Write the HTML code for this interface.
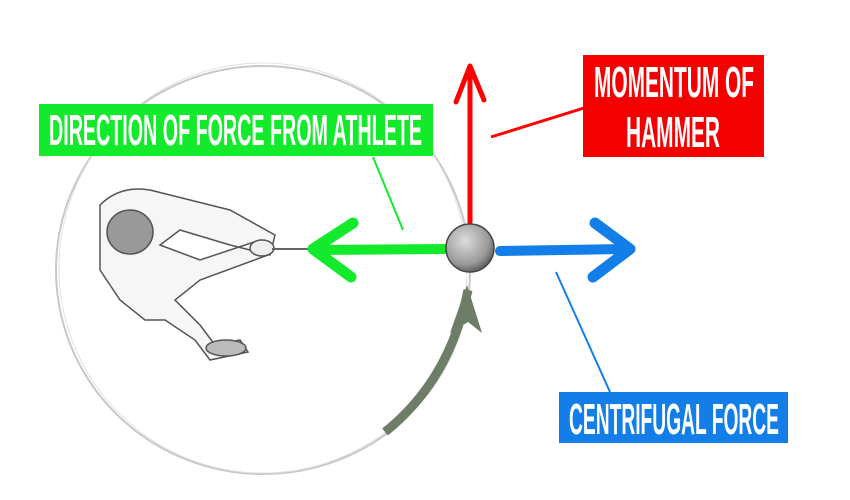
<!DOCTYPE html>
<html><head><meta charset="utf-8"><style>
html,body{margin:0;padding:0;background:#fff;width:850px;height:500px;overflow:hidden}
svg{display:block}
text{font-family:"Liberation Sans Narrow","Liberation Sans",sans-serif;font-weight:bold;fill:#fff}
</style></head><body>
<svg width="850" height="500" viewBox="0 0 850 500" xmlns="http://www.w3.org/2000/svg">
<defs>
<radialGradient id="ball" cx="0.4" cy="0.35" r="0.7">
<stop offset="0" stop-color="#ddd"/><stop offset="0.7" stop-color="#999"/><stop offset="1" stop-color="#555"/>
</radialGradient>
</defs>
<ellipse cx="263" cy="270" rx="207" ry="204" fill="none" stroke="#c8c8c8" stroke-width="2"/>
<ellipse cx="263" cy="268" rx="204" ry="205" fill="none" stroke="#e2e2e2" stroke-width="1"/>
<g stroke="#555" stroke-width="1.5" fill="#f6f6f6">
<path d="M100,205 Q120,185 150,190 L230,210 L275,235 L270,255 L230,245 L180,230 L160,245 L200,260 L260,240 L268,255 L200,280 L175,300 L200,325 L215,345 L240,340 L248,352 L210,360 L195,340 L165,320 L145,320 L120,300 L100,270 Z"/>
<ellipse cx="130" cy="232" rx="23" ry="22" fill="#999"/>
<ellipse cx="226" cy="348" rx="20" ry="8" fill="#bbb"/>
<ellipse cx="262" cy="248" rx="12" ry="8" fill="#eee"/>
</g>
<line x1="272" y1="249" x2="312" y2="249" stroke="#666" stroke-width="2"/>
<path d="M385,432 Q450,380 468,290" fill="none" stroke="#6d7d68" stroke-width="9"/>
<polygon points="467,285 450,333 468,322 482,333" fill="#6d7d68"/>
<line x1="470" y1="222" x2="470" y2="70" stroke="#f00" stroke-width="5" stroke-linecap="round"/>
<polyline points="456,102 470,66 484,100" fill="none" stroke="#f00" stroke-width="5" stroke-linecap="round" stroke-linejoin="round"/>
<line x1="491" y1="137" x2="584" y2="108" stroke="#f00" stroke-width="3"/>
<line x1="445" y1="249" x2="315" y2="250" stroke="#14ea2c" stroke-width="10" stroke-linecap="round"/>
<polyline points="353,223 313,249 351,277" fill="none" stroke="#14ea2c" stroke-width="11" stroke-linecap="round" stroke-linejoin="round"/>
<line x1="373" y1="157" x2="403" y2="230" stroke="#14ea2c" stroke-width="2"/>
<line x1="500" y1="251" x2="625" y2="249" stroke="#137ee8" stroke-width="10" stroke-linecap="round"/>
<polyline points="595,223 630,249 593,277" fill="none" stroke="#137ee8" stroke-width="11" stroke-linecap="round" stroke-linejoin="round"/>
<line x1="556" y1="272" x2="610" y2="392" stroke="#137ee8" stroke-width="2"/>
<circle cx="470" cy="248" r="24" fill="url(#ball)" stroke="#444" stroke-width="1.5"/>
<rect x="39" y="104" width="394" height="52" fill="#14ea2c"/>
<text x="49" y="145" font-size="44" textLength="373" lengthAdjust="spacingAndGlyphs">DIRECTION OF FORCE FROM ATHLETE</text>
<rect x="583" y="55" width="181" height="102" fill="#f30000"/>
<text x="594" y="97" font-size="44" textLength="160" lengthAdjust="spacingAndGlyphs">MOMENTUM OF</text>
<text x="626" y="147" font-size="44" textLength="94" lengthAdjust="spacingAndGlyphs">HAMMER</text>
<rect x="559" y="392" width="229" height="51" fill="#137ee8"/>
<text x="569" y="434" font-size="44" textLength="210" lengthAdjust="spacingAndGlyphs">CENTRIFUGAL FORCE</text>
</svg>
</body></html>
